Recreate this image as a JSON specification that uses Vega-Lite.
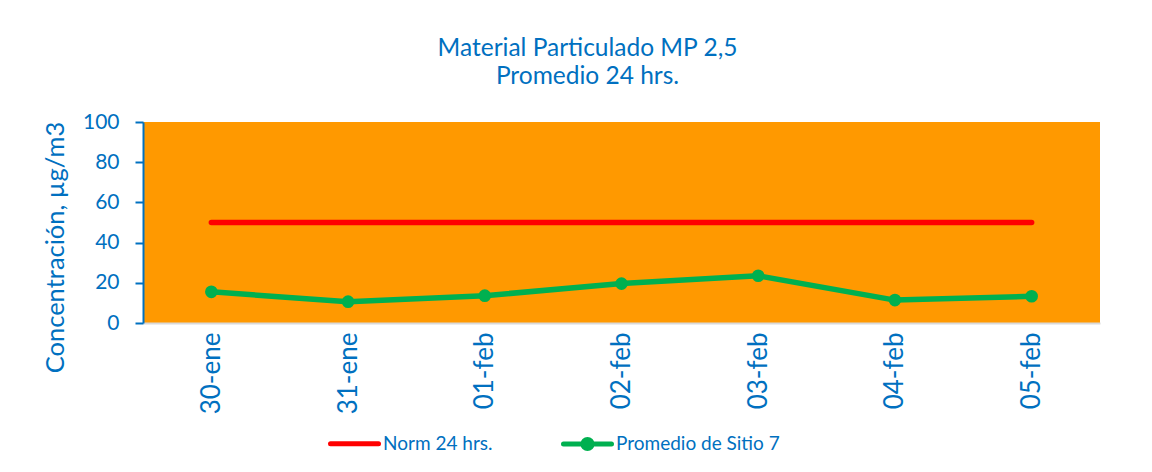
{
  "$schema": "https://vega.github.io/schema/vega-lite/v6.json",
  "width": 957,
  "height": 201,
  "autosize": {"type": "none"},
  "padding": {"left": 143, "top": 122, "right": 52, "bottom": 149},
  "background": "white",
  "config": {
    "font": "Lato",
    "view": {"fill": "#FF9900", "stroke": null}
  },
  "title": {
    "text": ["Material Particulado MP 2,5", "Promedio 24 hrs."],
    "fontSize": 24.5,
    "fontWeight": "normal",
    "color": "#0070C0",
    "font": "Lato",
    "lineHeight": 28,
    "offset": 22,
    "dx": -34
  },
  "data": {
    "values": [
      {"fecha": "30-ene", "serie": "Norm 24 hrs.", "valor": 50},
      {"fecha": "31-ene", "serie": "Norm 24 hrs.", "valor": 50},
      {"fecha": "01-feb", "serie": "Norm 24 hrs.", "valor": 50},
      {"fecha": "02-feb", "serie": "Norm 24 hrs.", "valor": 50},
      {"fecha": "03-feb", "serie": "Norm 24 hrs.", "valor": 50},
      {"fecha": "04-feb", "serie": "Norm 24 hrs.", "valor": 50},
      {"fecha": "05-feb", "serie": "Norm 24 hrs.", "valor": 50},
      {"fecha": "30-ene", "serie": "Promedio de Sitio 7", "valor": 15.5},
      {"fecha": "31-ene", "serie": "Promedio de Sitio 7", "valor": 10.6},
      {"fecha": "01-feb", "serie": "Promedio de Sitio 7", "valor": 13.6},
      {"fecha": "02-feb", "serie": "Promedio de Sitio 7", "valor": 19.6},
      {"fecha": "03-feb", "serie": "Promedio de Sitio 7", "valor": 23.5},
      {"fecha": "04-feb", "serie": "Promedio de Sitio 7", "valor": 11.4},
      {"fecha": "05-feb", "serie": "Promedio de Sitio 7", "valor": 13.3}
    ]
  },
  "encoding": {
    "x": {
      "field": "fecha",
      "type": "ordinal",
      "sort": null,
      "scale": {"paddingInner": 0, "paddingOuter": 0},
      "axis": {
        "title": null,
        "labelAngle": 270,
        "labelFontSize": 26,
        "labelColor": "#0070C0",
        "labelPadding": 9,
        "ticks": false,
        "domainColor": "#D9D9D9",
        "domainWidth": 2
      }
    },
    "y": {
      "field": "valor",
      "type": "quantitative",
      "scale": {"domain": [0, 100], "nice": false},
      "axis": {
        "title": "Concentración, µg/m3",
        "titleFontSize": 25.5,
        "titleFontWeight": "normal",
        "titleColor": "#0070C0",
        "titlePadding": 14,
        "titleY": 125,
        "values": [0, 20, 40, 60, 80, 100],
        "labelFontSize": 21,
        "labelColor": "#0070C0",
        "labelPadding": 16,
        "grid": false,
        "domainColor": "#0070C0",
        "domainWidth": 2,
        "tickColor": "#0070C0",
        "tickWidth": 2,
        "tickSize": 8
      }
    },
    "color": {
      "field": "serie",
      "type": "nominal",
      "scale": {
        "domain": ["Norm 24 hrs.", "Promedio de Sitio 7"],
        "range": ["#FF0000", "#00B050"]
      },
      "legend": {
        "title": null,
        "orient": "none",
        "direction": "horizontal",
        "legendX": 185,
        "legendY": 295,
        "labelFontSize": 19,
        "labelColor": "#0070C0",
        "labelOffset": 2,
        "labelLimit": 400,
        "columnPadding": 60,
        "symbolSize": 2304,
        "symbolStrokeWidth": 5,
        "encode": {
          "symbols": {
            "update": {
              "shape": {"signal": "datum.value === 'Norm 24 hrs.' ? 'M-1,0H1M0,-0.2M0,0.2' : 'M-1,0H1M-0.19,0A0.19,0.19 0 1 1 0.19,0A0.19,0.19 0 1 1 -0.19,0Z'"},
              "strokeCap": {"value": "round"}
            }
          }
        }
      }
    }
  },
  "layer": [
    {
      "mark": {"type": "line", "strokeWidth": 5.5, "strokeCap": "round", "strokeJoin": "round"}
    },
    {
      "transform": [{"filter": "datum.serie === 'Promedio de Sitio 7'"}],
      "mark": {"type": "point", "filled": true, "size": 160, "opacity": 1}
    }
  ]
}
